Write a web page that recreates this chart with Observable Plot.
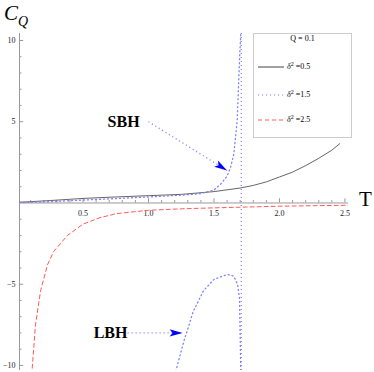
<!DOCTYPE html>
<html><head><meta charset="utf-8">
<script src="https://cdn.jsdelivr.net/npm/d3@7"></script>
<script src="https://cdn.jsdelivr.net/npm/@observablehq/plot@0.6"></script>
<style>
body{margin:0;background:#fff;}
#wrap{position:relative;width:374px;height:372px;font-family:"Liberation Serif","DejaVu Serif",serif;overflow:hidden;}
#wrap svg{display:block;}
.ov{position:absolute;color:#000;white-space:nowrap;line-height:1;}
#legend{position:absolute;left:253px;top:33px;width:97px;height:103px;border:1px solid #ccc;background:#fff;font-size:8px;white-space:nowrap;line-height:1;}
#legend .row{position:absolute;left:3px;height:10px;width:90px;}
#legend .row > span.lab{position:absolute;left:30px;top:1px;white-space:nowrap;}
#legend sup{font-size:6px;vertical-align:top;position:relative;top:-2px;}
</style></head><body><div id="wrap"></div>
<script>
// delta^2 = 0.5 (solid black)
const T_a = [0.015,0.1,0.25,0.5,0.75,1.0,1.25,1.5,1.7,1.8,1.9,2.0,2.1,2.2,2.3,2.4,2.46];
const C_a = [0.05,0.08,0.15,0.28,0.37,0.45,0.53,0.7,0.92,1.08,1.3,1.6,1.9,2.3,2.75,3.25,3.65];
// delta^2 = 1.5 (blue dotted), small black hole branch
const T_sbh = [0.015,0.25,0.5,0.75,1.0,1.25,1.4,1.5,1.55,1.6,1.626,1.651,1.677,1.697,1.706];
const C_sbh = [0.02,0.08,0.18,0.27,0.37,0.48,0.58,0.8,1.15,1.65,2.18,3.0,5.06,9.2,10.6];
// delta^2 = 1.5, large black hole branch
const T_lbh = [1.2,1.27,1.31,1.34,1.42,1.5,1.6,1.65,1.68,1.695,1.705];
const C_lbh = [-10.6,-8.5,-7.5,-6.7,-5.4,-4.7,-4.4,-4.5,-5.0,-5.9,-10.6];
const T_asym = [1.708];
// delta^2 = 2.5 (red dashed)
const T_c = [0.108,0.137,0.176,0.229,0.275,0.38,0.5,0.63,0.76,1.0,1.25,1.5,1.75,2.0,2.25,2.527];
const C_c = [-10.6,-7.5,-5.4,-3.8,-3.0,-2.0,-1.3,-0.9,-0.65,-0.45,-0.36,-0.3,-0.25,-0.2,-0.17,-0.14];

const xMajor = [0.5,1.0,1.5,2.0,2.5];
const xMinor = [0.1,0.2,0.3,0.4,0.6,0.7,0.8,0.9,1.1,1.2,1.3,1.4,1.6,1.7,1.8,1.9,2.1,2.2,2.3,2.4];
const yMajor = [-10,-5,5,10];
const yMinor = [-9,-8,-7,-6,-4,-3,-2,-1,1,2,3,4,6,7,8,9];

// annotations
const labels = ["SBH","LBH"];
const labelT = [0.81,0.71];
const labelC = [5.0,-8.0];
const arrowFromT = [1.0,0.84];
const arrowFromC = [5.0,-8.0];
const arrowToT = [1.6,1.26];
const arrowToC = [2.0,-8.0];

const legendTitle = "Q = 0.1";
const legendLabels = ["0.5","1.5","2.5"];

const xDom = [0.015, 2.527];
const yDom = [-10.31, 10.43];
const x0 = xDom[0];

const zip = (a,b) => a.map((v,i)=>({T:v,C:b[i]}));
const dA = zip(T_a,C_a), dS = zip(T_sbh,C_sbh), dL = zip(T_lbh,C_lbh), dC = zip(T_c,C_c);
const ann = labels.map((l,i)=>({l, T:labelT[i], C:labelC[i], T1:arrowFromT[i], C1:arrowFromC[i], T2:arrowToT[i], C2:arrowToC[i]}));

const arrowSym = {draw(ctx){ ctx.moveTo(0,0); ctx.lineTo(-13,-3.6); ctx.lineTo(-10,0); ctx.lineTo(-13,3.6); ctx.closePath(); }};

const axisCol = "#999";
const blue = "#8282ff";
const dot = "1.1,2.9";
const serif = "Liberation Serif, DejaVu Serif, serif";

const chart = Plot.plot({
  width: 374, height: 372,
  marginLeft: 19, marginRight: 26, marginTop: 33, marginBottom: 2,
  x: {domain: xDom, axis: null},
  y: {domain: yDom, axis: null},
  style: {fontFamily: serif, background: "#fff"},
  marks: [
    Plot.ruleY([0], {stroke: axisCol, strokeWidth: 1}),
    Plot.ruleX([x0], {stroke: axisCol, strokeWidth: 1}),
    Plot.ruleX(xMajor, {x: d=>d, y1: 0, y2: 0.26, stroke: axisCol}),
    Plot.ruleX(xMinor, {x: d=>d, y1: 0, y2: 0.15, stroke: axisCol}),
    Plot.ruleY(yMajor, {y: d=>d, x1: x0, x2: x0 + 0.032, stroke: axisCol}),
    Plot.ruleY(yMinor, {y: d=>d, x1: x0, x2: x0 + 0.019, stroke: axisCol}),
    Plot.text(xMajor, {x: d=>d, y: 0, dy: 10, text: d=>d.toFixed(1), fontSize: 8, fill: "#222"}),
    Plot.text(yMajor, {x: x0, y: d=>d, dx: -4, textAnchor: "end", text: d=> d<0 ? "\u2212"+(-d) : String(d), fontSize: 8, fill: "#222"}),
    Plot.line(dC, {x:"T", y:"C", stroke:"#ff5a5a", strokeWidth:1, strokeDasharray:"4,3", clip:true}),
    Plot.line(dA, {x:"T", y:"C", stroke:"#555", strokeWidth:0.9, clip:true}),
    Plot.line(dS, {x:"T", y:"C", stroke:blue, strokeWidth:1.3, strokeDasharray:dot, clip:true}),
    Plot.line(dL, {x:"T", y:"C", stroke:blue, strokeWidth:1.3, strokeDasharray:dot, clip:true}),
    Plot.ruleX(T_asym, {x: d=>d, stroke:blue, strokeWidth:1.3, strokeDasharray:dot}),
    Plot.link(ann, {x1:"T1", y1:"C1", x2:"T2", y2:"C2", stroke:blue, strokeWidth:1.3, strokeDasharray:dot}),
    Plot.dot([ann[0]], {x:"T2", y:"C2", symbol: arrowSym, fill:"#0000ff", stroke:"none", rotate: 31.5}),
    Plot.dot([ann[1]], {x:"T2", y:"C2", symbol: arrowSym, fill:"#0000ff", stroke:"none", rotate: 0}),
    Plot.text(ann, {x:"T", y:"C", text:"l", fontSize: 16, fontWeight: "bold", fill:"#000", fontFamily: serif})
  ]
});
const wrap = document.getElementById("wrap");
wrap.appendChild(chart);

// axis titles
const cq = document.createElement("div");
cq.className = "ov";
cq.style.cssText = "left:4px;top:3px;font-size:21px;font-style:italic;";
cq.innerHTML = 'C<span style="font-size:14px;position:relative;top:6px;">Q</span>';
wrap.appendChild(cq);
const tl = document.createElement("div");
tl.className = "ov";
tl.style.cssText = "left:359px;top:189px;font-size:21px;";
tl.textContent = "T";
wrap.appendChild(tl);

// legend
const lg = document.createElement("div");
lg.id = "legend";
const styles = [
  {stroke:"#555", dash:""},
  {stroke:blue, dash:dot},
  {stroke:"#ff5a5a", dash:"4,3"}
];
const rowTops = [28, 56, 81];
let html = `<div style="position:absolute;left:0;width:97px;top:1px;text-align:center;">${legendTitle}</div>`;
legendLabels.forEach((v,i)=>{
  html += `<div class="row" style="top:${rowTops[i]}px;"><svg width="28" height="10" style="position:absolute;left:0;top:0"><line x1="1" x2="27" y1="5" y2="5" stroke="${styles[i].stroke}" stroke-width="1.1" stroke-dasharray="${styles[i].dash}"/></svg><span class="lab"><i>δ</i><sup>2</sup> =${v}</span></div>`;
});
lg.innerHTML = html;
wrap.appendChild(lg);
</script>
</body></html>
